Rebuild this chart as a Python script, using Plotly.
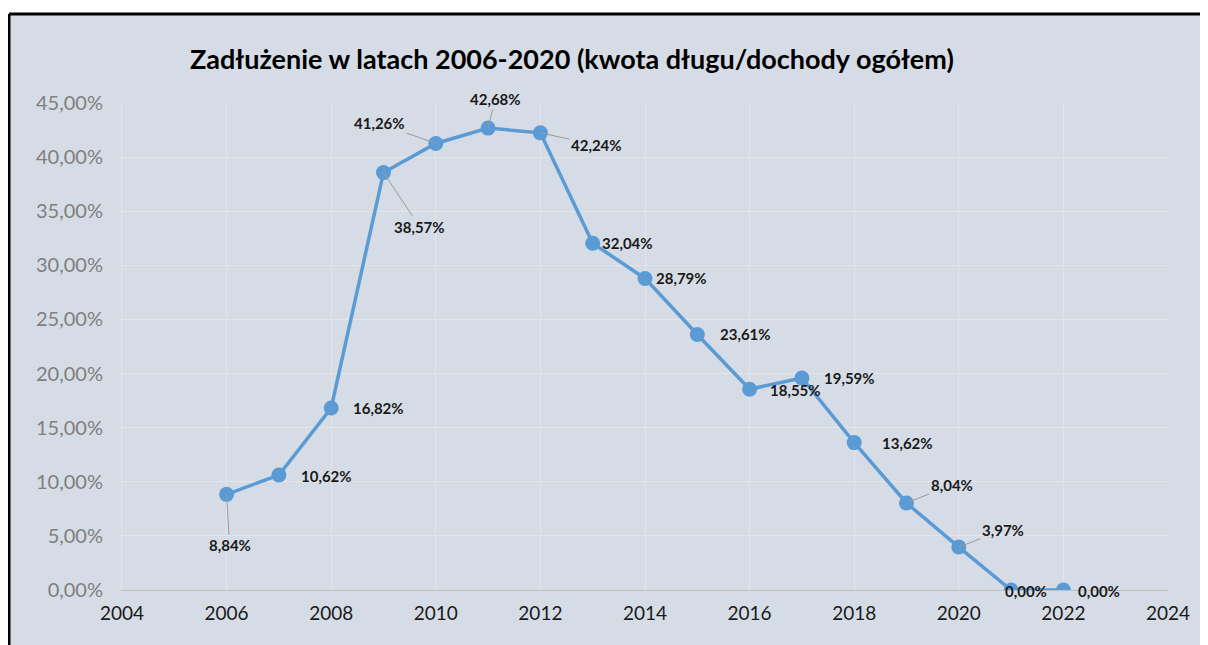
import plotly.graph_objects as go

# ---- data ----
years = [2006, 2007, 2008, 2009, 2010, 2011, 2012, 2013, 2014, 2015,
         2016, 2017, 2018, 2019, 2020, 2021, 2022]
debt_pct = [8.84, 10.62, 16.82, 38.57, 41.26, 42.68, 42.24, 32.04, 28.79, 23.61,
            18.55, 19.59, 13.62, 8.04, 3.97, 0.00, 0.00]
title_text = "Zadłużenie w latach 2006-2020 (kwota długu/dochody ogółem)"

# ---- label placement (pixel offsets from point) and leader-line flags ----
label_dx = [3, 48, 47, 36, -56, 7, 56, 35, 36, 48, 46, 48, 53, 45, 44, 15, 36]
label_dy = [51, 1, 0, 54, -20, -29, 12, 0, 0, 0, 1, 0, 0, -18, -17, 1, 1]
leader = [True, False, False, True, True, True, True, False, False, False,
          False, False, False, True, True, False, False]

BG = "#D6DCE5"
LINE = "#5B9BD5"
FONT = "Lato"
LBL_FONT = dict(family=FONT, size=15, color="#1a1a1a", weight="bold")

vals = [v / 100 for v in debt_pct]

fig = go.Figure()
fig.add_trace(go.Scatter(
    x=years, y=vals, mode="lines+markers",
    line=dict(color=LINE, width=3.5),
    marker=dict(color=LINE, size=15),
    hoverinfo="skip", showlegend=False,
))

annotations = []
for x, v, p, dx, dy, ld in zip(years, vals, debt_pct, label_dx, label_dy, leader):
    txt = f"{p:.2f}%".replace(".", ",")
    if ld:
        annotations.append(dict(
            x=x, y=v, xref="x", yref="y", text=txt, showarrow=True,
            ax=dx, ay=dy, arrowhead=0, arrowwidth=1, arrowcolor="#9A9A9A",
            standoff=0, font=LBL_FONT,
        ))
    else:
        annotations.append(dict(
            x=x, y=v, xref="x", yref="y", text=txt, showarrow=False,
            xshift=dx, yshift=-dy, font=LBL_FONT,
        ))

W, H = 1200, 637
PL, PT, PW, PH = 114, 95, 1046, 487
annotations.append(dict(
    x=(564 - PL) / PW, y=(PT + PH - 50) / PH, xref="paper", yref="paper",
    xanchor="center", yanchor="middle",
    text=title_text, showarrow=False,
    font=dict(family=FONT, size=27, color="#000000", weight="bold"),
))

fig.update_layout(
    width=W, height=H,
    margin=dict(l=PL, r=W - PL - PW, t=PT, b=H - PT - PH),
    paper_bgcolor=BG,
    plot_bgcolor="rgba(0,0,0,0)",
    separators=",.",
    annotations=annotations,
    shapes=[
        dict(type="rect", xref="paper", yref="paper", layer="below",
             x0=(-10 - PL) / PW, x1=(W + 10 - PL) / PW,
             y0=(PT + PH - 6) / PH, y1=(PT + PH + 10) / PH,
             fillcolor="white", line=dict(width=0)),
        dict(type="line", xref="paper", yref="paper", layer="below",
             x0=(1 - PL) / PW, x1=(W + 10 - PL) / PW,
             y0=(PT + PH - 6) / PH, y1=(PT + PH - 6) / PH,
             line=dict(color="black", width=3)),
        dict(type="line", xref="paper", yref="paper", layer="below",
             x0=(1 - PL) / PW, x1=(1 - PL) / PW,
             y0=(PT + PH - 6) / PH, y1=(PT + PH - H - 10) / PH,
             line=dict(color="black", width=3)),
    ],
    xaxis=dict(
        range=[2004, 2024], dtick=2, tick0=2004,
        showgrid=True, gridcolor="#E3E5EA", gridwidth=1,
        showline=True, linecolor="#BFBFBF", linewidth=1,
        zeroline=False, ticks="", ticklabelstandoff=6,
        tickfont=dict(family=FONT, size=19, color="#1a1a1a"),
    ),
    yaxis=dict(
        range=[0, 0.45], dtick=0.05, tickformat=".2%",
        showgrid=True, gridcolor="#E3E5EA", gridwidth=1,
        showline=True, linecolor="#E3E5EA", linewidth=1,
        zeroline=False, ticks="", ticklabelstandoff=14,
        tickfont=dict(family=FONT, size=20, color="#7F7F7F"),
    ),
)

fig.write_html("out.html")
